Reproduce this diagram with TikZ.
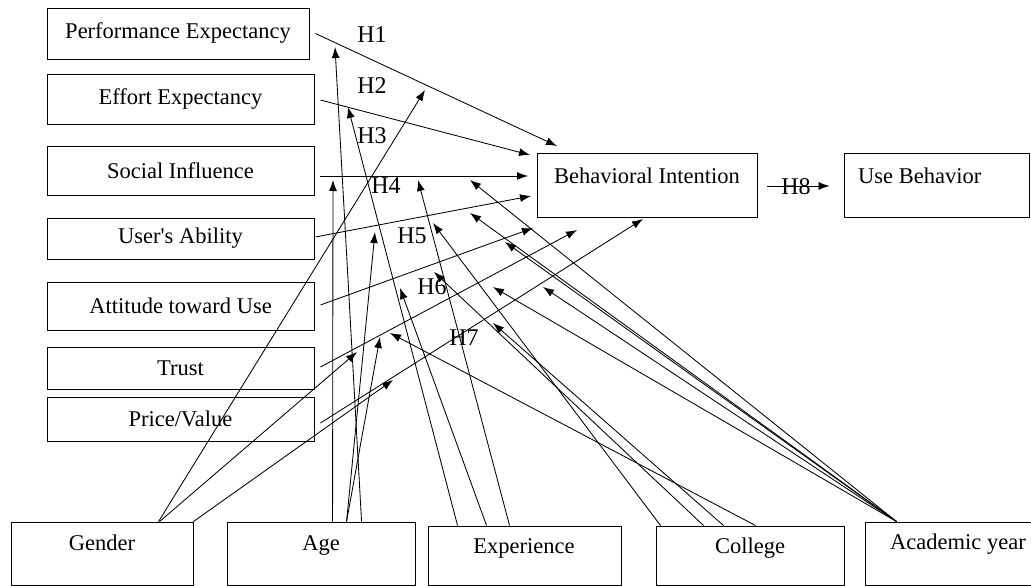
\documentclass[tikz,border=0pt]{standalone}
\usepackage{fontspec}
\setmainfont{Liberation Serif}
\usetikzlibrary{arrows.meta,calc}
\begin{document}
\begin{tikzpicture}[x=1pt,y=-1pt,
  box/.style={draw, line width=0.9pt, inner sep=0pt},
  lbl/.style={font=\fontsize{22.5}{27}\selectfont, inner sep=0pt},
  hyp/.style={font=\fontsize{24}{28}\selectfont, inner sep=0pt},
  arr/.style={line width=0.85pt, -{Latex[length=11pt,width=8pt]}}]
\useasboundingbox (0,0) rectangle (1031,586);
% left constructs
\node[box,lbl,minimum width=262pt,minimum height=51pt] (pe) at (178,33.5) {Performance Expectancy};
\node[box,lbl,minimum width=267pt,minimum height=50pt] (ee) at (180.5,99) {Effort Expectancy};
\node[box,lbl,minimum width=267pt,minimum height=49pt] (si) at (180.5,170.5) {Social Influence};
\node[box,lbl,minimum width=267pt,minimum height=41pt] (ua) at (180.5,238.5) {User\textquotesingle s Ability};
\node[box,lbl,minimum width=267pt,minimum height=48pt] (atu) at (180.5,306) {Attitude toward Use};
\node[box,lbl,minimum width=267pt,minimum height=42pt] (tr) at (180.5,368) {Trust};
\node[box,lbl,minimum width=267pt,minimum height=44pt] (pv) at (180.5,419) {Price/Value};
% outcome boxes
\node[box,minimum width=220pt,minimum height=64pt] (bi) at (647,185) {};
\node[lbl] (bit) at (647,176) {Behavioral Intention};
\node[box,minimum width=185pt,minimum height=64pt] (ub) at (936.5,185) {};
\node[lbl,anchor=west] (ubt) at (858,176) {Use Behavior};
% moderators
\node[box,minimum width=182pt,minimum height=63pt] (gen) at (102,553.5) {};
\node[lbl] (gent) at (102,543) {Gender};
\node[box,minimum width=188pt,minimum height=63pt] (age) at (321,553.5) {};
\node[lbl] (aget) at (321,545) {Age};
\node[box,minimum width=193pt,minimum height=59pt] (exp) at (524.5,555.5) {};
\node[lbl] (expt) at (524,548) {Experience};
\node[box,minimum width=188pt,minimum height=59pt] (col) at (750,555.5) {};
\node[lbl] (colt) at (750,548) {College};
\node[box,minimum width=175pt,minimum height=63pt] (acy) at (952.5,553.5) {};
\node[lbl] (acyt) at (958,544) {Academic year};
% hypothesis labels
\node[hyp] (h1) at (372,35) {H1};
\node[hyp] (h2) at (372,86) {H2};
\node[hyp] (h3) at (372,136) {H3};
\node[hyp] (h4) at (386,186) {H4};
\node[hyp] (h5) at (412,236) {H5};
\node[hyp] (h6) at (432,287) {H6};
\node[hyp] (h7) at (464,338) {H7};
\node[hyp] (h8) at (796,187) {H8};
% arrow tips near Behavioral Intention
\coordinate (tPE) at (557,146);
\coordinate (tEE) at (530,155);
\coordinate (tSI) at (528,176);
\coordinate (tUA) at (531,196);
\coordinate (tATU) at (533,228);
\coordinate (tTR) at (577,230);
\coordinate (tPV) at (643,219);
\draw[arr] ($(pe.east)+(6,0)$) -- (tPE);
\draw[arr] ($(ee.east)+(6,1)$) -- (tEE);
\draw[arr] ($(si.east)+(6,5.5)$) -- (tSI);
\draw[arr] ($(ua.east)+(1,-1.5)$) -- (tUA);
\draw[arr] ($(atu.east)+(6,-1)$) -- (tATU);
\draw[arr] ($(tr.east)+(6,-1)$) -- (tTR);
\draw[arr] ($(pv.east)+(6,4)$) -- (tPV);
\draw[arr] ($(bi.east)+(10,1)$) -- ($(ub.west)+(-14,1)$);
% moderation tips
\coordinate (m1) at (425,90);
\coordinate (m2) at (335,47);
\coordinate (m3) at (348,107);
\coordinate (m4) at (333,180);
\coordinate (m5) at (418,180);
\coordinate (m6) at (470,180);
\coordinate (m7) at (375,232);
\coordinate (m8) at (433,223);
\coordinate (m9) at (470,213);
\coordinate (m10) at (505,242);
\coordinate (m11) at (434,272);
\coordinate (m12) at (400,288);
\coordinate (m13) at (493,287);
\coordinate (m14) at (543,287);
\coordinate (m15) at (493,323);
\coordinate (m16) at (357,352);
\coordinate (m17) at (380,337);
\coordinate (m18) at (390,333);
\coordinate (m19) at (393,380);
% Gender
\draw[arr] ($(gen.north west)+(148,0)$) -- (m1);
\draw[arr] ($(gen.north west)+(149,0)$) -- (m16);
\draw[arr] (gen.north east) -- (m19);
% Age
\draw[arr] ($(age.north west)+(106,0)$) -- (m4);
\draw[arr] ($(age.north west)+(135,0)$) -- (m2);
\draw[arr] ($(age.north west)+(120,0)$) -- (m7);
\draw[arr] ($(age.north west)+(120,0)$) -- (m17);
% Experience
\draw[arr] ($(exp.north west)+(30,0)$) -- (m3);
\draw[arr] ($(exp.north west)+(59,0)$) -- (m12);
\draw[arr] ($(exp.north west)+(82,0)$) -- (m5);
% College
\draw[arr] ($(col.north west)+(5,0)$) -- (m8);
\draw[arr] ($(col.north west)+(48,0)$) -- (m11);
\draw[arr] ($(col.north west)+(68,0)$) -- (m15);
\draw[arr] ($(col.north west)+(100,0)$) -- (m18);
% Academic year
\draw[arr] ($(acy.north west)+(32,0)$) -- (m6);
\draw[arr] ($(acy.north west)+(32,0)$) -- (m9);
\draw[arr] ($(acy.north west)+(32,0)$) -- (m10);
\draw[arr] ($(acy.north west)+(32,0)$) -- (m13);
\draw[arr] ($(acy.north west)+(32,0)$) -- (m14);
\end{tikzpicture}
\end{document}
